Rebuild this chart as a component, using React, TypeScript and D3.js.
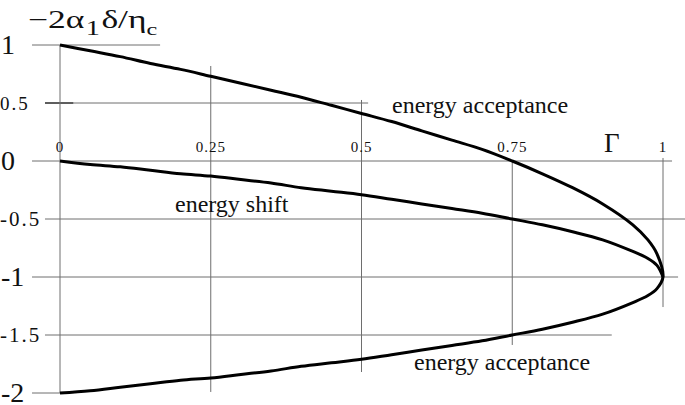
import React from "react";
import * as d3 from "d3";

const gammaValues = [0, 0.05, 0.1, 0.15, 0.2, 0.25, 0.3, 0.35, 0.4, 0.45, 0.5, 0.55, 0.6, 0.65, 0.7, 0.75, 0.8, 0.85, 0.9, 0.95, 0.975, 0.99, 1];
const acceptanceUpper = [1, 0.95, 0.9, 0.84, 0.79, 0.73, 0.67, 0.61, 0.55, 0.48, 0.41, 0.34, 0.26, 0.18, 0.1, 0, -0.11, -0.23, -0.37, -0.55, -0.68, -0.8, -1];
const acceptanceLower = [-2, -1.98, -1.95, -1.92, -1.89, -1.87, -1.84, -1.81, -1.77, -1.74, -1.71, -1.67, -1.63, -1.59, -1.55, -1.5, -1.45, -1.39, -1.32, -1.22, -1.16, -1.1, -1];
const energyShift = [0, -0.03, -0.05, -0.08, -0.11, -0.13, -0.16, -0.19, -0.23, -0.26, -0.29, -0.33, -0.37, -0.41, -0.45, -0.5, -0.55, -0.61, -0.68, -0.78, -0.84, -0.9, -1];

const xTickValues = [0, 0.25, 0.5, 0.75, 1];
const xTickLabels = ["0", "0.25", "0.5", "0.75", "1"];
const yTickValues = [1, 0.5, 0, -0.5, -1, -1.5, -2];
const yTickLabels = ["1", "0.5", "0", "-0.5", "-1", "-1.5", "-2"];

const W = 685;
const H = 405;
const FONT = "Liberation Serif, Times New Roman, Times, DejaVu Serif, serif";

export default function App() {
  const x = d3.scaleLinear().domain([0, 1]).range([60, 663]);
  const y = d3.scaleLinear().domain([-2, 1]).range([393, 45]);

  // horizontal grid segments: [value, from Γ, to Γ]
  const hGrid: [number, number, number][] = [
    [1, -0.0464, 0.166],
    [0.5, -0.0249, 0.511],
    [0, -0.0464, 1.015],
    [-0.5, -0.0249, 1.04],
    [-1, -0.0464, 1.025],
    [-1.5, -0.0249, 0.915],
    [-2, -0.0464, 0],
  ];
  // vertical grid segments: [Γ, from y, to y]
  const vGrid: [number, number, number][] = [
    [0, 1, -2],
    [0.25, 0.819, -1.991],
    [0.5, 0.526, -1.819],
    [0.75, 0, -1.586],
    [1, 0.026, -1.259],
  ];

  const line = d3
    .line<[number, number]>()
    .x((d) => x(d[0]))
    .y((d) => y(d[1]))
    .curve(d3.curveCatmullRom.alpha(0.5));

  const accPts: [number, number][] = [
    ...gammaValues.map((g, i) => [g, acceptanceUpper[i]] as [number, number]),
    ...gammaValues
      .map((g, i) => [g, acceptanceLower[i]] as [number, number])
      .reverse()
      .slice(1),
  ];
  const shiftPts: [number, number][] = gammaValues.map((g, i) => [g, energyShift[i]]);

  const gridColor = "#6e6e6e";
  const txt = { fontFamily: FONT };

  return (
    <div style={{ position: "absolute", left: 0, top: 0 }}>
      <svg width={W} height={H} style={{ display: "block", background: "#fff", fontFamily: FONT }}>
        <rect width={W} height={H} fill="#fff" />
        {hGrid.map(([v, a, b], i) => (
          <line key={"h" + i} x1={x(a)} x2={x(b)} y1={y(v)} y2={y(v)} stroke={gridColor} strokeWidth={1} />
        ))}
        <line x1={x(-0.0249)} x2={x(0.022)} y1={y(0.5)} y2={y(0.5)} stroke="#222" strokeWidth={1.2} />
        {vGrid.map(([v, a, b], i) => (
          <line key={"v" + i} x1={x(v)} x2={x(v)} y1={y(a)} y2={y(b)} stroke={gridColor} strokeWidth={1} />
        ))}

        <path d={line(accPts) || ""} fill="none" stroke="#000" strokeWidth={3} strokeLinejoin="round" />
        <path d={line(shiftPts) || ""} fill="none" stroke="#000" strokeWidth={3} strokeLinejoin="round" />

        {yTickValues.map((v, i) => {
          const isInt = Number.isInteger(v);
          return (
            <text
              key={"yl" + i}
              style={txt}
              x={isInt ? 1 : 0}
              y={y(v) + (isInt ? 9 : 7)}
              fontSize={isInt ? 28 : v === 0.5 ? 19 : 21}
              letterSpacing={isInt ? 0 : 2}
              fill="#111"
            >
              {yTickLabels[i]}
            </text>
          );
        })}

        {xTickValues.map((v, i) => (
          <text key={"xl" + i} style={txt} x={x(v)} y={y(0) - 9} fontSize={15} textAnchor="middle" letterSpacing={1} fill="#111">
            {xTickLabels[i]}
          </text>
        ))}

        <text style={txt} x={x(0.915)} y={y(0) - 9} fontSize={27} textAnchor="middle" fill="#111">
          Γ
        </text>

        <g transform="translate(28,28) scale(1.42,1)">
          <text style={txt} x={0} y={0} fontSize={25} fill="#111">
            <tspan>−2α</tspan>
            <tspan fontSize={20} dy={7} dx={1}>1</tspan>
            <tspan dy={-7} dx={1}>δ/η</tspan>
            <tspan fontSize={17} dy={7}>c</tspan>
          </text>
        </g>

        <text style={txt} x={392} y={113} fontSize={24} fill="#111">energy acceptance</text>
        <text style={txt} x={175} y={212} fontSize={24} fill="#111">energy shift</text>
        <text style={txt} x={414} y={370} fontSize={24} fill="#111">energy acceptance</text>
      </svg>
    </div>
  );
}
